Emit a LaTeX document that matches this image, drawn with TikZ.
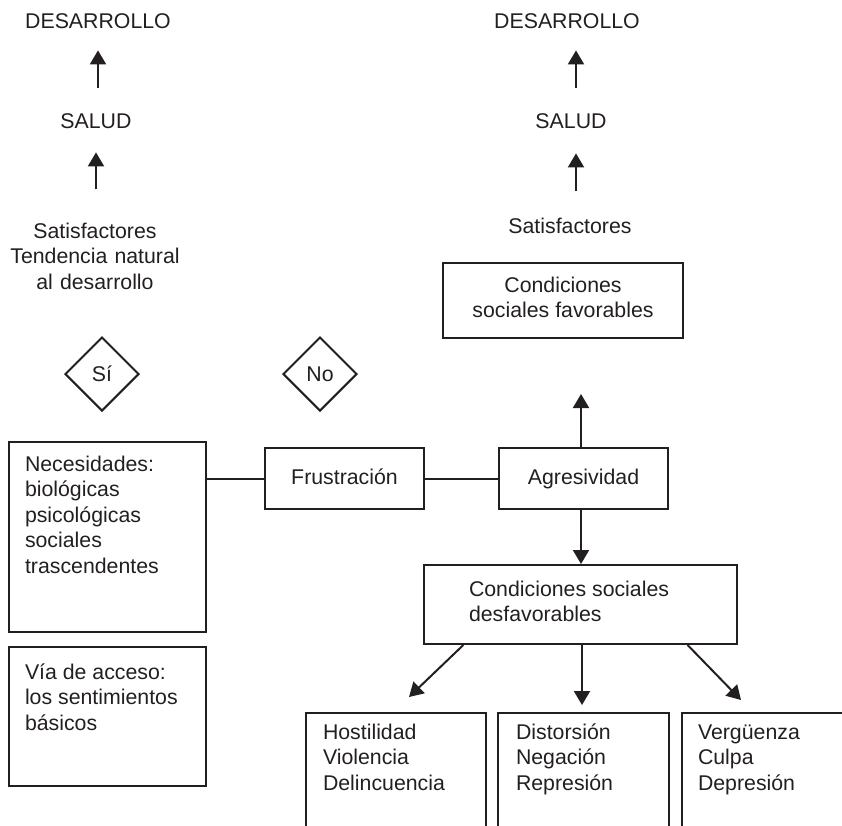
\documentclass[tikz,border=0pt]{standalone}
\usepackage{fontspec}
\setmainfont{Liberation Sans}
\usetikzlibrary{arrows.meta,shapes.geometric,calc}
\definecolor{ink}{RGB}{35,31,32}
% fixed-size, top-aligned text block for the framed lists
\newcommand\topblock[3]{\parbox[t][#2][t]{#1}{\raggedright\strut #3}}
\begin{document}
\begin{tikzpicture}[x=1pt,y=-1pt,
  every node/.style={font=\fontsize{21.3}{25.5}\selectfont, text=ink, inner sep=0pt},
  lbl/.style={anchor=base},
  frame/.style={draw=ink, line width=2pt},
  onebox/.style={frame, text height=15pt, text depth=4pt},
  listbox/.style={frame, anchor=north west},
  answer/.style={frame, diamond, aspect=1, minimum width=74pt, minimum height=74pt},
  arr/.style={draw=ink, line width=2pt, -{Triangle[length=14pt,width=16pt]}},
  link/.style={draw=ink, line width=2pt}]
\useasboundingbox (0,0) rectangle (842,825);
\clip (0,0) rectangle (842,825);

% left column: the positive path
\node[lbl] (des1) at (98,28) {DESARROLLO};
\node[lbl] (salud1) at (96,128) {SALUD};
\node[lbl, text width=200pt, align=center] (sat1) at (95,238)
  {Satisfactores\\Tendencia natural\\al desarrollo};
\draw[arr, shorten <=25pt, shorten >=22pt] (des1.south |- salud1.north) -- (des1.south);
\draw[arr, shorten <=33pt, shorten >=24pt] (salud1.south |- sat1.north) -- (salud1.south);

% right column
\coordinate (rx) at (576,0);
\node[lbl] (des2) at (567,28) {DESARROLLO};
\node[lbl] (salud2) at (571,128) {SALUD};
\node[lbl] (sat2) at (570,233) {Satisfactores};
\draw[arr, shorten <=25pt, shorten >=22pt] (rx |- salud2.north) -- (rx |- des2.south);
\draw[arr, shorten <=26pt, shorten >=25pt] (rx |- sat2.north) -- (rx |- salud2.south);
\node[frame, anchor=north west, inner xsep=0pt, inner ysep=11.15pt] (fav) at (442,262)
  {\parbox[t][52.7pt][t]{240pt}{\centering\strut Condiciones\\sociales favorables}};

% decisions
\node[answer] (si) at (102,374) {Sí};
\node[answer] (no) at (320,374) {No};

% needs and the chain
\node[listbox, inner xsep=16pt, inner ysep=11.15pt] (nec) at (8,441)
  {\topblock{165pt}{167.7pt}{Necesidades:\\biológicas\\psicológicas\\sociales\\trascendentes}};
\node[listbox, inner xsep=16pt, inner ysep=14.15pt] (via) at (8,646)
  {\topblock{165pt}{110.7pt}{Vía de acceso:\\los sentimientos\\básicos}};
\node[onebox, minimum width=159pt, minimum height=61pt] (frus) at (344.5,478.5) {Frustración};
\node[onebox, minimum width=169pt, minimum height=61pt] (agre) at (583.5,478.5) {Agresividad};
\draw[link] (frus.west -| nec.east) -- (frus.west);
\draw[link] (frus.east) -- (agre.west);

\node[listbox, inner xsep=45pt, inner ysep=13.15pt] (desf) at (423,564)
  {\topblock{223pt}{52.7pt}{Condiciones sociales\\desfavorables}};
\draw[arr, shorten >=55pt] ([xshift=-2.5pt]agre.north) -- ([xshift=-2.5pt]agre.north |- fav.south);
\draw[arr] ([xshift=-2.5pt]agre.south) -- ([xshift=-2.5pt]agre.south |- desf.north);

% consequences
\node[listbox, inner xsep=17pt, inner ysep=8.15pt] (hostil) at (305,712)
  {\topblock{146pt}{116.7pt}{Hostilidad\\Violencia\\Delincuencia}};
\node[listbox, inner xsep=18pt, inner ysep=8.15pt] (distor) at (497,712)
  {\topblock{135pt}{116.7pt}{Distorsión\\Negación\\Represión}};
\node[listbox, inner xsep=16pt, inner ysep=8.15pt] (vergu) at (681,712)
  {\topblock{157pt}{116.7pt}{Vergüenza\\Culpa\\Depresión}};
\draw[arr] ($(desf.south west)!0.128!(desf.south east)$) -- ($(hostil.north)+(13,-15)$);
\draw[arr, shorten >=7pt] ([xshift=1.5pt]desf.south) -- ([xshift=1.5pt]desf.south |- distor.north);
\draw[arr] ($(desf.south west)!0.84!(desf.south east)$) -- ($(vergu.north west)+(60,-12)$);
\end{tikzpicture}
\end{document}
